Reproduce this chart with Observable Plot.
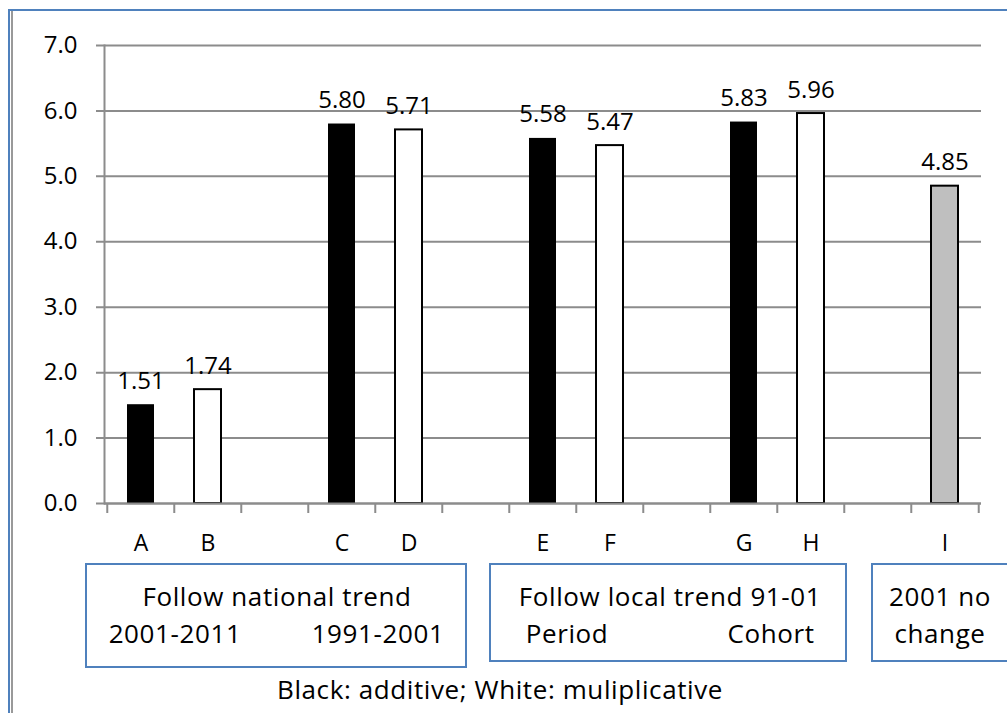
<!DOCTYPE html>
<html>
<head>
<meta charset="utf-8">
<script src="https://cdn.jsdelivr.net/npm/d3@7"></script>
<script src="https://cdn.jsdelivr.net/npm/@observablehq/plot@0.6"></script>
<style>
  html, body { margin: 0; padding: 0; background: #fff; }
  #wrap { position: relative; width: 1007px; height: 713px; overflow: hidden; }
  #frame-blue { position: absolute; left: 8px; top: 9px; width: 1100px; height: 800px;
    border-top: 2px solid #4f81bd; border-left: 2px solid #4f81bd; box-sizing: border-box; }
  #frame-grey { position: absolute; left: 11px; top: 11px; width: 2px; height: 800px; background: #999; }
  .box { position: absolute; border: 2px solid #4f81bd; box-sizing: border-box;
    font-family: "Open Sans", Lato, sans-serif; font-size: 26px; letter-spacing: 0.6px; color: #000; }
  .box span { position: absolute; transform: translate(-50%, -50%); white-space: nowrap; line-height: 1; }
  .note { position: absolute; transform: translate(-50%, -50%); white-space: nowrap; line-height: 1;
    font-family: "Open Sans", Lato, sans-serif; font-size: 26px; letter-spacing: 0.6px; }
  #chart { position: absolute; left: 0; top: 0; }
</style>
</head>
<body>
<div id="wrap">
  <div id="chart"></div>
  <div id="frame-blue"></div>
  <div id="frame-grey"></div>
  <div class="box" style="left:85px; top:563px; width:382px; height:105px;">
    <span style="left:190px; top:31px;">Follow national trend</span>
    <span style="left:88px; top:68px;">2001-2011</span>
    <span style="left:291px; top:68px;">1991-2001</span>
  </div>
  <div class="box" style="left:489px; top:563px; width:358px; height:99px;">
    <span style="left:179px; top:31px;">Follow local trend 91-01</span>
    <span style="left:76px; top:68px;">Period</span>
    <span style="left:280px; top:68px;">Cohort</span>
  </div>
  <div class="box" style="left:871px; top:563px; width:140px; height:99px;">
    <span style="left:67px; top:31px;">2001 no</span>
    <span style="left:67px; top:68px;">change</span>
  </div>
  <div class="note" style="left:500px; top:689px;">Black: additive; White: muliplicative</div>
</div>
<script>
// Bar labels, values and model type, in drawing order
const letters = ["A", "B", "C", "D", "E", "F", "G", "H", "I"];
const values = [1.51, 1.74, 5.80, 5.71, 5.58, 5.47, 5.83, 5.96, 4.85];
const methods = ["additive", "multiplicative", "additive", "multiplicative",
  "additive", "multiplicative", "additive", "multiplicative", "no change"];

// Slots along the x axis; empty gap slots separate the scenario groups
const slots = ["A", "B", "gap1", "C", "D", "gap2", "E", "F", "gap3", "G", "H", "gap4", "I"];
const yTicks = [0, 1, 2, 3, 4, 5, 6, 7];

const fills = { "additive": "#000000", "multiplicative": "#ffffff", "no change": "#bfbfbf" };
const strokes = { "additive": "none", "multiplicative": "#000000", "no change": "#000000" };

const data = letters.map((k, i) => ({ key: k, value: values[i], method: methods[i] }));

const W = 1007, H = 713, mL = 104, mR = 26, mT = 45, mB = 210;
const step = (W - mL - mR) / slots.length;
const grid = "#8c8c8c";

const chart = Plot.plot({
  width: W,
  height: H,
  marginLeft: mL,
  marginRight: mR,
  marginTop: mT,
  marginBottom: mB,
  style: { fontFamily: "'Open Sans', sans-serif", fontSize: "24px", color: "#000", background: "transparent" },
  x: { domain: slots, paddingInner: 0.6, paddingOuter: 0.3, axis: null },
  y: { domain: [0, 7], axis: null },
  marks: [
    // horizontal gridlines, extended left of the axis as tick marks
    Plot.gridY(yTicks, { stroke: grid, strokeOpacity: 1, strokeWidth: 2, insetLeft: -8 }),
    Plot.frame({ anchor: "left", stroke: grid, strokeWidth: 2 }),
    // y tick labels
    Plot.text(yTicks, {
      y: d => d, text: d3.format(".1f"),
      frameAnchor: "left", textAnchor: "end", dx: -27,
      fontSize: 24, fill: "#000"
    }),
    Plot.barY(data, {
      x: "key", y: "value",
      fill: d => fills[d.method],
      stroke: d => strokes[d.method],
      strokeWidth: 2
    }),
    Plot.ruleY([0], { stroke: grid, strokeWidth: 2 }),
    // boundary ticks between slots
    Plot.axisX(slots, { tickSize: 10, tickFormat: null, stroke: grid, strokeWidth: 2, dx: -step / 2, label: null }),
    Plot.axisX([slots[slots.length - 1]], { tickSize: 10, tickFormat: null, stroke: grid, strokeWidth: 2, dx: step / 2, label: null }),
    // category letters
    Plot.text(letters, {
      x: d => d, text: d => d,
      frameAnchor: "bottom", lineAnchor: "middle", dy: 40,
      fontSize: 23, fill: "#000"
    }),
    // value labels
    Plot.text(data, {
      x: "key", y: "value",
      text: d => d.value.toFixed(2),
      lineAnchor: "bottom",
      dy: -16,
      fontSize: 24,
      fill: "#000"
    })
  ]
});

document.getElementById("chart").appendChild(chart);
</script>
</body>
</html>
